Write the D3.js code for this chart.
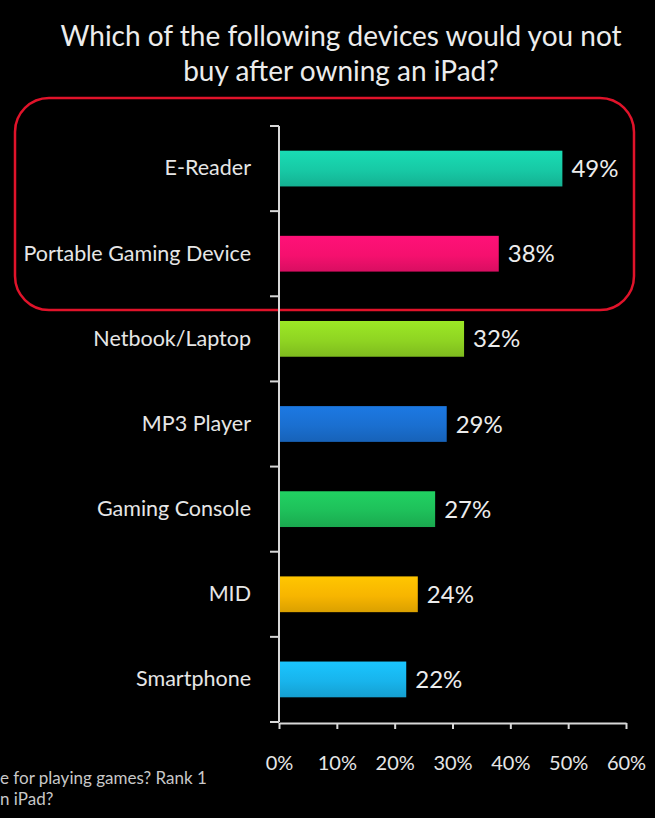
<!DOCTYPE html>
<html>
<head>
<meta charset="utf-8">
<script src="https://cdn.jsdelivr.net/npm/d3@7"></script>
<style>
  html, body { margin: 0; padding: 0; background: #000; }
  svg { display: block; }
  text { font-family: Lato, "Open Sans", sans-serif; }
</style>
</head>
<body>
<svg id="chart" width="655" height="818"></svg>
<script>
// ---- data ----
const titleLines = ["Which of the following devices would you not", "buy after owning an iPad?"];
const categories = ["E-Reader", "Portable Gaming Device", "Netbook/Laptop", "MP3 Player", "Gaming Console", "MID", "Smartphone"];
const values = [49, 38, 32, 29, 27, 24, 22];
const barColors = ["#17c9a5", "#f5106e", "#8fd422", "#1a6fd0", "#1ec05a", "#f7b500", "#18b4ec"];
const xTicks = [0, 10, 20, 30, 40, 50, 60];
const footnoteLines = ["e for playing games? Rank 1", "n iPad?"];

// ---- layout ----
const W = 655, H = 818;
const axisX = 279, plotTop = 126, plotBottom = 722, plotRight = 626;
const svg = d3.select("#chart");
svg.append("rect").attr("width", W).attr("height", H).attr("fill", "#000");

const x = d3.scaleLinear().domain([0, 60]).range([axisX, plotRight]);
const y = d3.scaleBand().domain(categories).range([plotTop, plotBottom])
  .paddingInner(0.58).paddingOuter(0.29);
const step = y.step();

// gradients
const defs = svg.append("defs");
barColors.forEach((c, i) => {
  const g = defs.append("linearGradient").attr("id", "grad" + i)
    .attr("x1", 0).attr("y1", 0).attr("x2", 0).attr("y2", 1);
  g.append("stop").attr("offset", "0%").attr("stop-color", d3.color(c).brighter(0.25));
  g.append("stop").attr("offset", "55%").attr("stop-color", c);
  g.append("stop").attr("offset", "100%").attr("stop-color", d3.color(c).darker(0.35));
});

// title
svg.append("g").selectAll("text").data(titleLines).join("text")
  .attr("x", 341).attr("y", (d, i) => 46 + i * 35)
  .attr("text-anchor", "middle")
  .attr("fill", "#ececec").attr("font-size", 28)
  .text(d => d);

// highlight box
svg.append("rect")
  .attr("x", 15).attr("y", 98).attr("width", 619).attr("height", 212)
  .attr("rx", 34).attr("ry", 34)
  .attr("fill", "none").attr("stroke", "#e0132a").attr("stroke-width", 2.5);

// bars
svg.append("g").selectAll("rect").data(categories).join("rect")
  .attr("x", x(0)).attr("y", d => y(d))
  .attr("width", (d, i) => x(values[i]) - x(0))
  .attr("height", y.bandwidth())
  .attr("fill", (d, i) => `url(#grad${i})`);

// value labels
svg.append("g").selectAll("text").data(categories).join("text")
  .attr("x", (d, i) => x(values[i]) + 9)
  .attr("y", d => y(d) + y.bandwidth() / 2)
  .attr("dy", "0.36em")
  .attr("fill", "#ececec").attr("font-size", 24)
  .text((d, i) => values[i] + "%");

// y axis
const yAxis = d3.axisLeft(y).tickSize(0).tickPadding(28);
const gy = svg.append("g").attr("transform", `translate(${axisX},0)`).call(yAxis);
gy.select(".domain").remove();
gy.selectAll("text").attr("fill", "#e6e6e6").attr("font-size", 21.5)
  .attr("font-family", "Lato, sans-serif");
const boundaries = categories.map(c => y(c) - (step - y.bandwidth()) / 2).concat([plotBottom]);
gy.append("line").attr("x1", 0).attr("x2", 0).attr("y1", plotTop).attr("y2", plotBottom)
  .attr("stroke", "#d8d8d8").attr("stroke-width", 2);
gy.selectAll(".btick").data(boundaries).join("line").attr("class", "btick")
  .attr("x1", -9).attr("x2", 0).attr("y1", d => d).attr("y2", d => d)
  .attr("stroke", "#d8d8d8").attr("stroke-width", 2);

// x axis
const xAxis = d3.axisBottom(x).tickValues(xTicks).tickFormat(d => d + "%")
  .tickSizeInner(6).tickSizeOuter(0).tickPadding(27);
const gx = svg.append("g").attr("transform", `translate(0,${plotBottom + 1})`).call(xAxis);
gx.select(".domain").attr("stroke", "#d8d8d8").attr("stroke-width", 2);
gx.selectAll(".tick line").attr("stroke", "#d8d8d8").attr("stroke-width", 2);
gx.selectAll("text").attr("fill", "#e6e6e6").attr("font-size", 20)
  .attr("font-family", "Lato, sans-serif");

// footnote
svg.append("g").selectAll("text").data(footnoteLines).join("text")
  .attr("x", 0).attr("y", (d, i) => 784 + i * 21)
  .attr("fill", "#c8c8c8").attr("font-size", 17)
  .text(d => d);
</script>
</body>
</html>
